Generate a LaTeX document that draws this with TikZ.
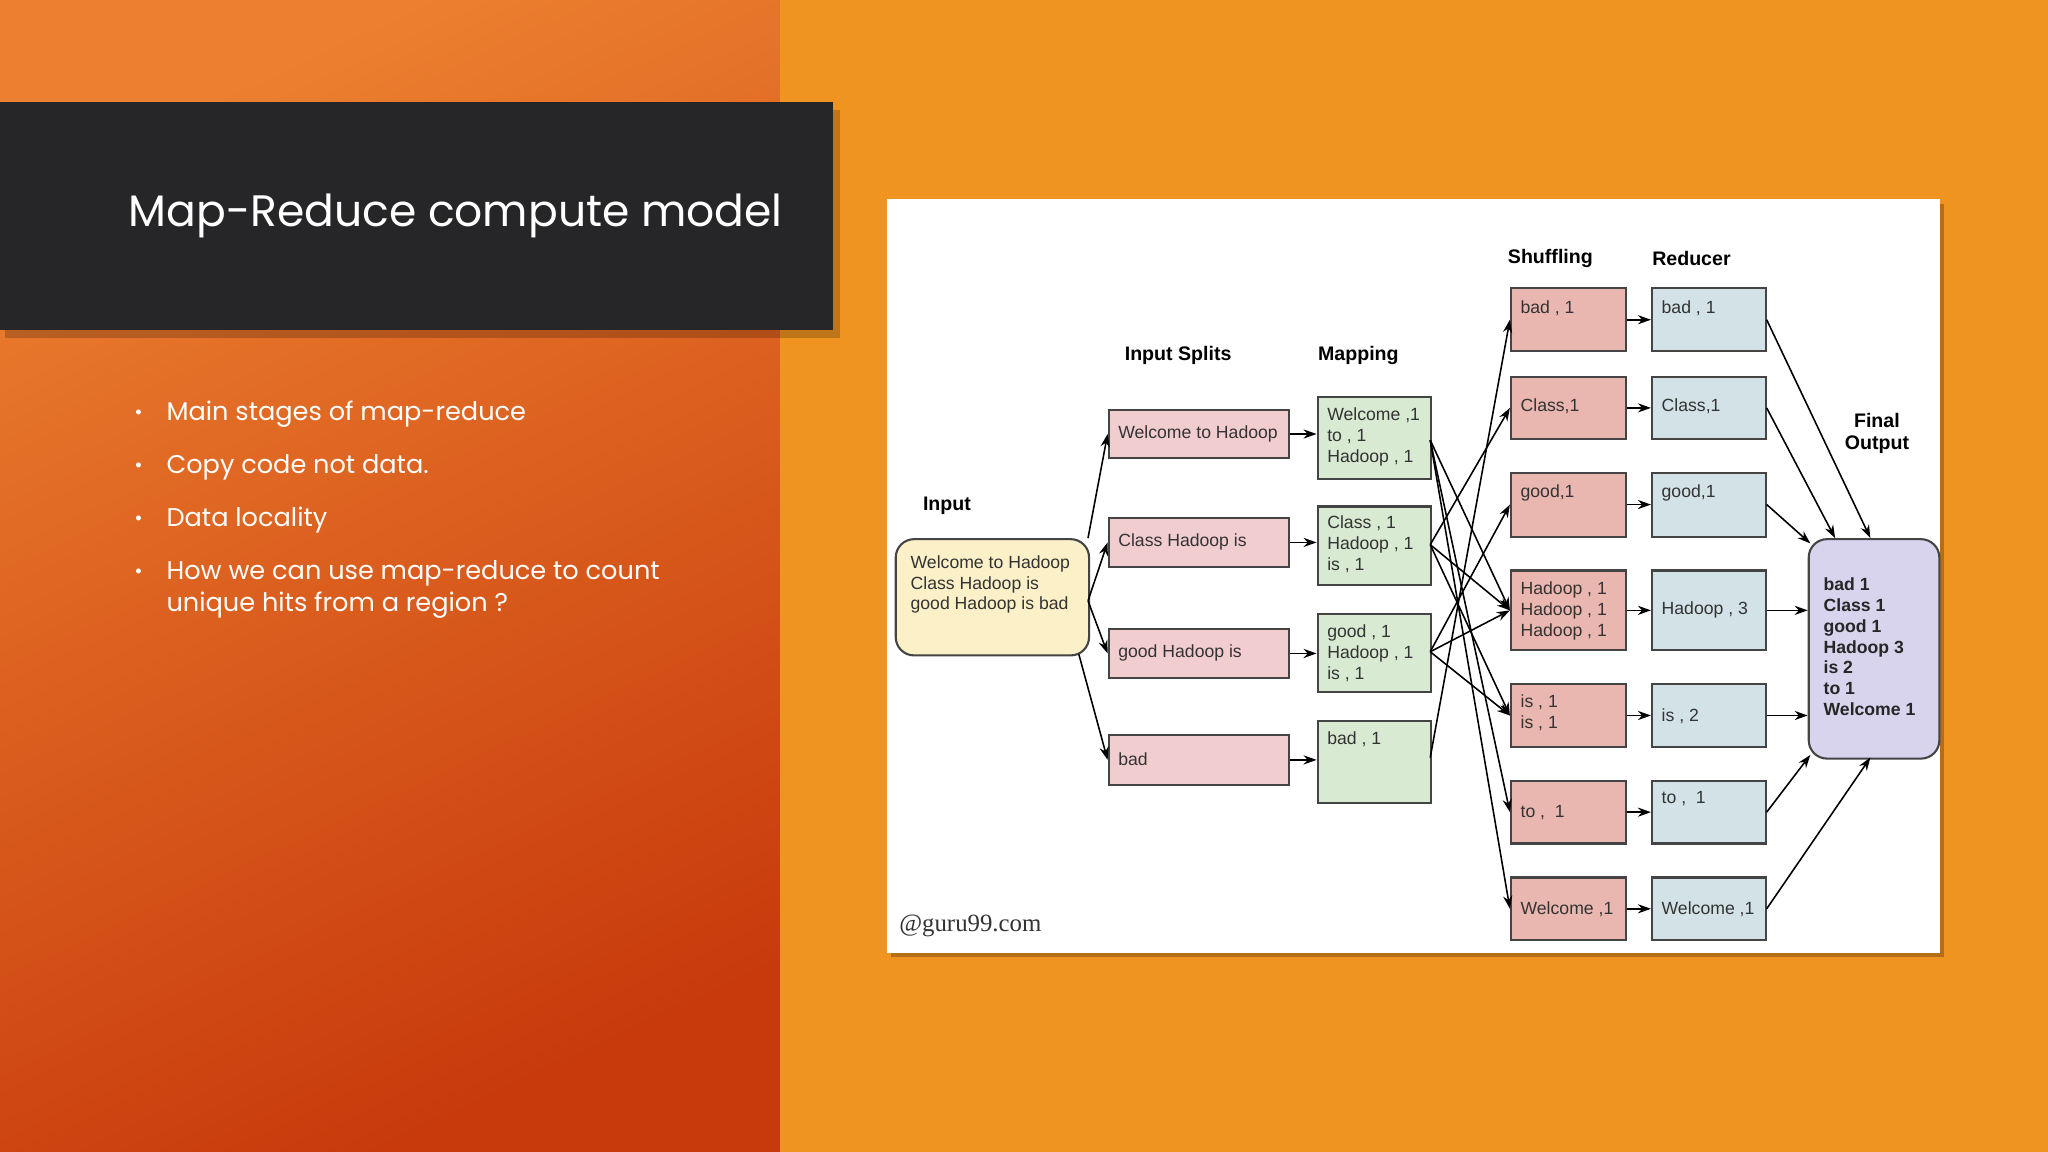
\documentclass[tikz,border=0pt]{standalone}
\usepackage{fontspec}
\setmainfont{Liberation Sans}
\newfontfamily\slidefont{Poppins}
\newfontfamily\serifx{Liberation Serif}
\usetikzlibrary{arrows.meta}
\definecolor{bgR}{HTML}{EF9420}
\definecolor{gA}{HTML}{EC8030}
\definecolor{gB}{HTML}{C83A0C}
\definecolor{banner}{HTML}{262628}
\definecolor{splitc}{HTML}{F2CDD0}
\definecolor{mapc}{HTML}{D8EAD2}
\definecolor{shufc}{HTML}{E9B7AF}
\definecolor{redc}{HTML}{D3E2E6}
\definecolor{inc}{HTML}{FBF0C8}
\definecolor{finc}{HTML}{D8D4EE}
\definecolor{edgec}{HTML}{444444}
\definecolor{txt}{HTML}{333333}
\tikzset{
  box/.style={draw=edgec,line width=1.6pt,anchor=north west,inner sep=0pt,
    text=txt,font=\fontsize{13.5}{16}\selectfont},
  lbl/.style={anchor=north west,align=left,text=txt,font=\fontsize{13.5}{16}\selectfont,inner sep=0pt},
  head/.style={font=\bfseries\fontsize{15}{17}\selectfont,text=black,align=center},
  ar/.style={-{Stealth[length=10pt,width=7pt]},line width=1.2pt,black},
  bul/.style={anchor=west,text=white,font=\slidefont\fontsize{19.6}{24}\selectfont,align=left}
}
\newcommand{\bx}[6]{% name, x1,y1,x2,y2, fill
  \node[box,fill=#6,minimum width=#4-#2,minimum height=#5-#3] (#1) at (#2,#3) {};}
\begin{document}
\begin{tikzpicture}[x=1pt,y=-1pt]
\useasboundingbox (0,0) rectangle (1568,882);
\fill[bgR] (0,0) rectangle (1568,882);
\shade[top color=gA,bottom color=gB,shading angle=25] (0,0) rectangle (597,882);
\fill[black,opacity=0.2] (4,84) rectangle (643,259);
\fill[banner] (0,78) rectangle (638,253);
\node[anchor=west,text=white,font=\slidefont\fontsize{33.7}{40}\selectfont] (title) at (95,165) {Map-Reduce compute model};
\foreach \yy/\tt in {317/Main stages of map-reduce,358/Copy code not data.,398/Data locality,439/How we can use map-reduce to count}{
  \node[bul] at (124,\yy) {\tt};
  \node[text=white,font=\fontsize{14}{14}\selectfont] at (106,\yy) {\textbullet};}
\node[bul] (b5) at (124,463) {unique hits from a region ?};
% panel
\fill[black,opacity=0.25] (682,156) rectangle (1488,733);
\fill[white] (679,152) rectangle (1485,730);
% headers
\node[head] (hin) at (725,387) {Input};
\node[head] (hsp) at (902,272) {Input Splits};
\node[head] (hmp) at (1040,272) {Mapping};
\node[head] (hsh) at (1187,198) {Shuffling};
\node[head] (hrd) at (1295,198) {Reducer};
\node[head] (hfo) at (1437,332) {Final\\Output};
% input
\node[box,fill=inc,rounded corners=14pt,minimum width=148pt,minimum height=89pt] (in) at (685,412) {};
\node[lbl] at (697,425) {Welcome to Hadoop\\Class Hadoop is\\good Hadoop is bad};
% splits
\bx{s1}{848}{313}{986}{350}{splitc}
\bx{s2}{848}{396}{986}{433}{splitc}
\bx{s3}{848}{481}{986}{518}{splitc}
\bx{s4}{848}{562}{986}{600}{splitc}
\node[lbl,anchor=west] at (856,332) {Welcome to Hadoop};
\node[lbl,anchor=west] at (856,415) {Class Hadoop is};
\node[lbl,anchor=west] at (856,500) {good Hadoop is};
\node[lbl,anchor=west] at (856,581) {bad};
% mapping
\bx{m1}{1008}{303}{1095}{366}{mapc}
\bx{m2}{1008}{387}{1095}{447}{mapc}
\bx{m3}{1008}{469}{1095}{529}{mapc}
\bx{m4}{1008}{551}{1095}{614}{mapc}
\node[lbl] at (1016,312) {Welcome ,1\\to , 1\\Hadoop , 1};
\node[lbl] at (1016,395) {Class , 1\\Hadoop , 1\\is , 1};
\node[lbl] at (1016,478) {good , 1\\Hadoop , 1\\is , 1};
\node[lbl] at (1016,560) {bad , 1};
% shuffle & reducer
\foreach \n/\ya/\yb in {1/220/268,2/288/335,3/361/410,4/436/497,5/523/571,6/597/645,7/671/719}{
  \bx{sh\n}{1156}{\ya}{1244}{\yb}{shufc}
  \bx{r\n}{1264}{\ya}{1351}{\yb}{redc}
  \draw[ar] (sh\n.east) -- (r\n.west);}
\node[lbl] at (1164,230) {bad , 1};
\node[lbl] at (1164,305) {Class,1};
\node[lbl] at (1164,371) {good,1};
\node[lbl] at (1164,445) {Hadoop , 1\\Hadoop , 1\\Hadoop , 1};
\node[lbl] at (1164,532) {is , 1\\is , 1};
\node[lbl,anchor=west] at (1164,622) {to ,\ \ 1};
\node[lbl,anchor=west] at (1164,696) {Welcome ,1};
\node[lbl] at (1272,230) {bad , 1};
\node[lbl] at (1272,305) {Class,1};
\node[lbl] at (1272,371) {good,1};
\node[lbl,anchor=west] at (1272,467) {Hadoop , 3};
\node[lbl,anchor=west] at (1272,548) {is , 2};
\node[lbl] at (1272,606) {to ,\ \ 1};
\node[lbl,anchor=west] at (1272,696) {Welcome ,1};
% final
\node[box,fill=finc,rounded corners=14pt,minimum width=100pt,minimum height=168pt] (fo) at (1384,412) {};
\node[lbl,font=\bfseries\fontsize{13.5}{16}\selectfont,text=black!85] at (1396,442) {bad 1\\Class 1\\good 1\\Hadoop 3\\is 2\\to 1\\Welcome 1};
% connectors
\draw[ar] (833,412) -- (s1.west);
\draw[ar] (833,460) -- (s2.west);
\draw[ar] (833,460) -- (s3.west);
\draw[ar] (826,501) -- (s4.west);
\foreach \i in {1,2,3,4}{\draw[ar] (s\i.east) -- (m\i.west|-s\i.east);}
\coordinate (m1o) at (1095,337);
\coordinate (m2o) at (1095,417);
\coordinate (m3o) at (1095,499);
\coordinate (m4o) at (1095,580);
\draw[ar] (m1o) -- (sh7.west);
\draw[ar] (m1o) -- (sh6.west);
\draw[ar] (m1o) -- (sh4.west);
\draw[ar] (m2o) -- (sh2.west);
\draw[ar] (m2o) -- (sh4.west);
\draw[ar] (m2o) -- (sh5.west);
\draw[ar] (m3o) -- (sh3.west);
\draw[ar] (m3o) -- (sh4.west);
\draw[ar] (m3o) -- (sh5.west);
\draw[ar] (m4o) -- (sh1.west);
\draw[ar] (r1.east) -- (1432,412);
\draw[ar] (r2.east) -- (1405,412);
\draw[ar] (r3.east) -- (1386,416);
\draw[ar] (r4.east) -- (fo.west|-r4.east);
\draw[ar] (r5.east) -- (fo.west|-r5.east);
\draw[ar] (r6.east) -- (1386,578);
\draw[ar] (r7.east) -- (1432,580);
\node[anchor=west,font=\serifx\fontsize{19}{20}\selectfont,text=black!80] (g) at (685,709) {@guru99.com};
\end{tikzpicture}
\end{document}
